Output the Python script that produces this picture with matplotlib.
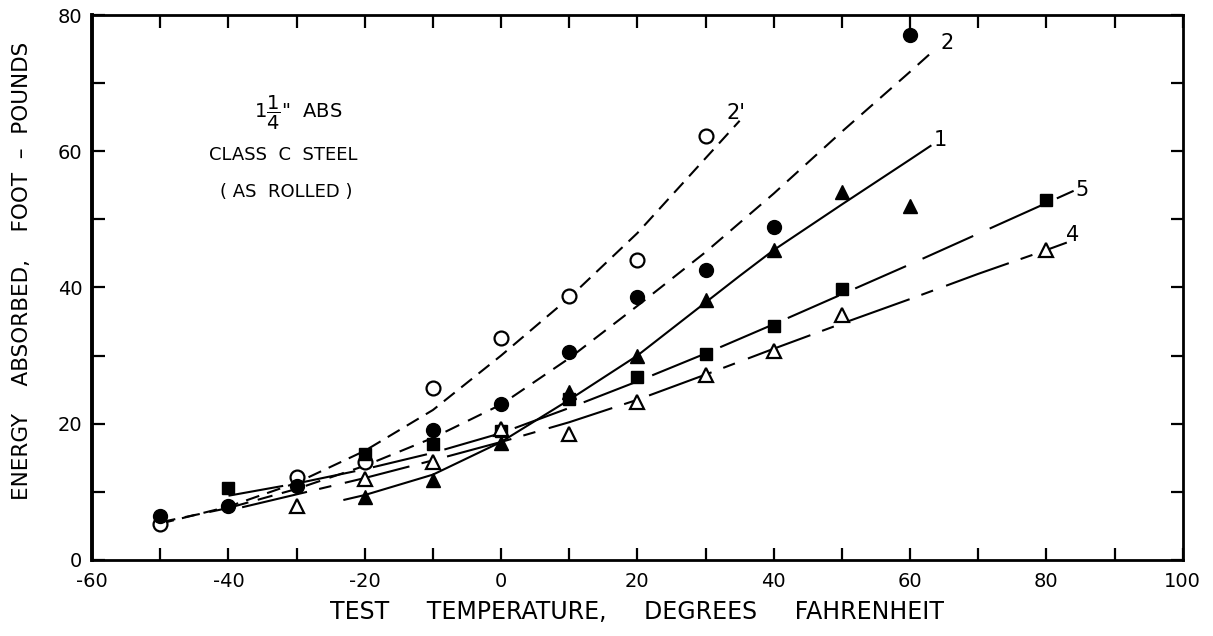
import matplotlib
matplotlib.use('Agg')
import matplotlib.pyplot as plt
from matplotlib.ticker import MultipleLocator

plt.rcParams['font.family'] = ['DejaVu Sans']
plt.rcParams['mathtext.fontset'] = 'dejavusans'
plt.rcParams['lines.scale_dashes'] = False
plt.rcParams['axes.unicode_minus'] = False

# measured points, test temperature (F) vs energy (ft-lb)
open_circle_t = [-50, -30, -20, -10, 0, 10, 20, 30]
open_circle_e = [5.3, 12.1, 14.3, 25.3, 32.6, 38.8, 44.1, 62.2]

filled_circle_t = [-50, -40, -30, -10, 0, 10, 20, 30, 40, 60]
filled_circle_e = [6.4, 7.9, 10.8, 19.0, 22.9, 30.5, 38.6, 42.6, 48.9, 77.1]

filled_tri_t = [-20, -10, 0, 10, 20, 30, 40, 50, 60]
filled_tri_e = [9.2, 11.7, 17.1, 24.6, 29.9, 38.2, 45.5, 54.1, 51.9]

filled_sq_t = [-40, -20, -10, 0, 10, 20, 30, 40, 50, 80]
filled_sq_e = [10.5, 15.6, 17.0, 18.9, 23.6, 26.9, 30.2, 34.3, 39.8, 52.9]

open_tri_t = [-30, -20, -10, 0, 10, 20, 30, 40, 50, 80]
open_tri_e = [7.9, 11.9, 14.4, 19.2, 18.5, 23.2, 27.2, 30.6, 36.0, 45.5]

# faired curves
curve2p_t = [-50, -40, -30, -20, -10, 0, 10, 20, 30, 35]
curve2p_e = [5.3, 7.8, 11.3, 16.0, 22.0, 30.0, 38.5, 48.0, 59.0, 64.5]

curve2_t = [-50, -40, -30, -20, -10, 0, 10, 20, 30, 40, 50, 60, 63]
curve2_e = [5.5, 7.6, 10.4, 13.8, 17.9, 22.8, 29.6, 37.3, 45.2, 53.8, 62.9, 71.7, 74.4]

curve1_t = [-23, -20, -10, 0, 10, 20, 30, 35, 40, 50, 60, 63]
curve1_e = [8.8, 9.5, 12.5, 17.3, 23.5, 30.0, 37.8, 41.7, 45.5, 52.2, 58.8, 60.8]

curve5_t = [-40, -30, -20, -10, 0, 10, 20, 30, 40, 50, 60, 70, 80, 84]
curve5_e = [9.4, 11.2, 13.3, 15.7, 18.6, 22.3, 26.2, 30.3, 34.6, 39.0, 43.4, 47.9, 52.4, 54.2]

curve4_t = [-38, -30, -20, -10, 0, 10, 20, 30, 40, 50, 60, 70, 80, 83]
curve4_e = [7.7, 9.6, 12.0, 14.6, 17.3, 20.2, 23.5, 27.2, 31.0, 34.7, 38.3, 42.0, 45.5, 46.6]

curve_labels = ["2'", "2", "1", "5", "4"]
label_t = [34.5, 65.5, 64.5, 85.3, 83.8]
label_e = [65.6, 75.9, 61.7, 54.3, 47.7]

fig = plt.figure(figsize=(12.13, 6.36), dpi=100)
ax = fig.add_axes([0.076, 0.12, 0.899, 0.856])

lw = 1.5
ax.plot(curve2p_t, curve2p_e, color='black', lw=lw, dashes=(10, 6))
ax.plot(curve2_t, curve2_e, color='black', lw=lw, dashes=(11, 7))
ax.plot(curve1_t, curve1_e, color='black', lw=lw)
ax.plot(curve5_t, curve5_e, color='black', lw=lw, dashes=(40, 13))
ax.plot(curve4_t, curve4_e, color='black', lw=lw, dashes=(48, 9, 9, 10))

ax.plot(open_circle_t, open_circle_e, 'o', ms=10, mfc='white', mec='black', mew=1.6)
ax.plot(filled_circle_t, filled_circle_e, 'o', ms=10, color='black')
ax.plot(filled_tri_t, filled_tri_e, '^', ms=10, color='black')
ax.plot(filled_sq_t, filled_sq_e, 's', ms=8.5, color='black')
ax.plot(open_tri_t, open_tri_e, '^', ms=10, mfc='white', mec='black', mew=1.6)

for s, t, e in zip(curve_labels, label_t, label_e):
    ax.text(t, e, s, fontsize=15, ha='center', va='center')

ax.text(-29.8, 65.6, r'$1\dfrac{1}{4}$"  ABS', fontsize=14, ha='center', va='center')
ax.text(-32, 59.5, 'CLASS  C  STEEL', fontsize=13, ha='center', va='center')
ax.text(-31.5, 54.0, '( AS  ROLLED )', fontsize=13, ha='center', va='center')

ax.set_xlim(-60, 100)
ax.set_ylim(0, 80)
ax.xaxis.set_major_locator(MultipleLocator(20))
ax.xaxis.set_minor_locator(MultipleLocator(10))
ax.yaxis.set_major_locator(MultipleLocator(20))
ax.yaxis.set_minor_locator(MultipleLocator(10))
ax.tick_params(which='both', direction='in', top=True, right=True,
               length=9, width=1.6, labelsize=14)
ax.tick_params(axis='x', pad=9)
ax.tick_params(axis='y', pad=7)
for side in ['top', 'right', 'bottom']:
    ax.spines[side].set_linewidth(2)
ax.spines['left'].set_linewidth(2.8)

ax.set_xlabel('TEST     TEMPERATURE,     DEGREES     FAHRENHEIT', fontsize=17, labelpad=6)
ax.set_ylabel('ENERGY    ABSORBED,    FOOT  \u2013  POUNDS', fontsize=15.5)
ax.yaxis.set_label_coords(-0.055, 0.53)

fig.savefig('out.png', dpi=100)
plt.close(fig)
